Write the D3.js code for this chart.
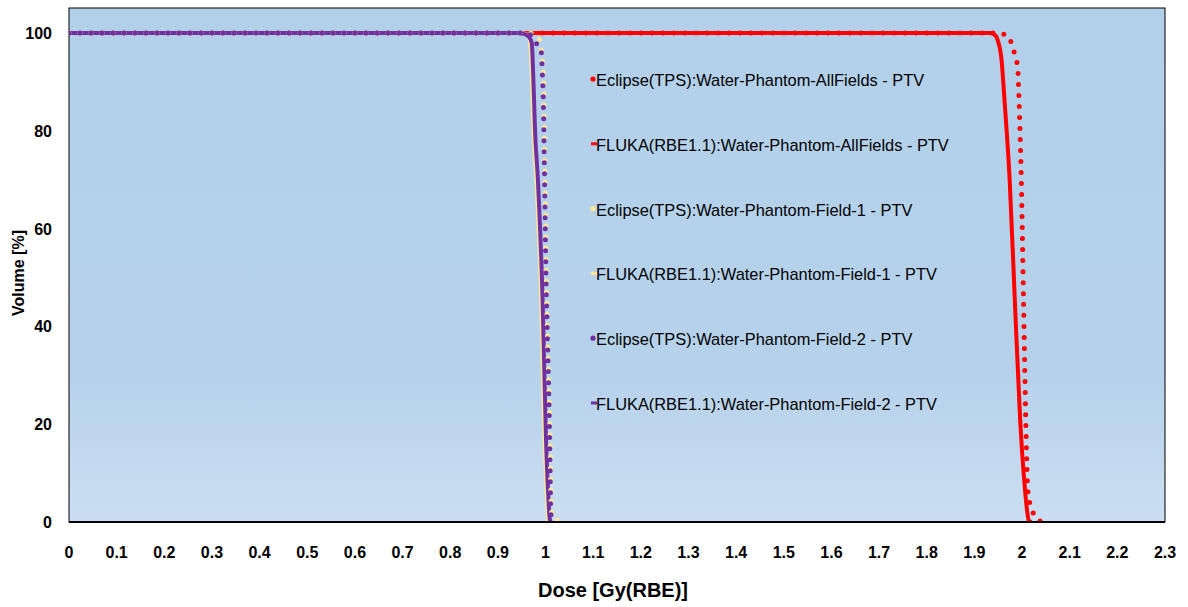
<!DOCTYPE html>
<html>
<head>
<meta charset="utf-8">
<script src="https://cdn.jsdelivr.net/npm/d3@7"></script>
<style>
  body { margin: 0; background: #ffffff; }
  svg { display: block; }
  .tick-label { font-family: "Liberation Sans", Arial, sans-serif; font-weight: bold; font-size: 16px; fill: #000; }
  .axis-title { font-family: "Liberation Sans", Arial, sans-serif; font-weight: bold; fill: #000; }
  .legend-text { font-family: "Liberation Sans", Arial, sans-serif; font-size: 16.4px; fill: #000; }
</style>
</head>
<body>
<div id="chart"></div>
<script>
// frame constants
const FRAME_WIDTH = 1188;
const FRAME_HEIGHT = 607;
const MARGINS = {left: 69, right: 23, top: 8, bottom: 85};
const VIS_WIDTH = FRAME_WIDTH - MARGINS.left - MARGINS.right;
const VIS_HEIGHT = FRAME_HEIGHT - MARGINS.top - MARGINS.bottom;

// tick labels
const X_TICKS = [0, 0.1, 0.2, 0.3, 0.4, 0.5, 0.6, 0.7, 0.8, 0.9, 1, 1.1, 1.2, 1.3, 1.4, 1.5, 1.6, 1.7, 1.8, 1.9, 2, 2.1, 2.2, 2.3];
const Y_TICKS = [0, 20, 40, 60, 80, 100];

// series names
const SERIES_NAMES = [
  "Eclipse(TPS):Water-Phantom-AllFields - PTV",
  "FLUKA(RBE1.1):Water-Phantom-AllFields - PTV",
  "Eclipse(TPS):Water-Phantom-Field-1 - PTV",
  "FLUKA(RBE1.1):Water-Phantom-Field-1 - PTV",
  "Eclipse(TPS):Water-Phantom-Field-2 - PTV",
  "FLUKA(RBE1.1):Water-Phantom-Field-2 - PTV"
];

// DVH values: dose [Gy(RBE)] and volume [%]
const DOSE_ECL_ALL = [0, 1.95, 1.956, 1.965, 1.973, 1.98, 1.987, 1.991, 1.993, 1.996, 1.998, 2.003, 2.008, 2.012, 2.015, 2.021, 2.031, 2.046];
const VOL_ECL_ALL  = [100, 100, 99.9, 99.6, 99.2, 96.9, 94.9, 92.6, 88, 79, 72, 46, 20, 6.7, 4.5, 2.5, 0.6, 0];

const DOSE_FLU_ALL = [0, 1.932, 1.943, 1.949, 1.957, 1.963, 1.974, 1.985, 1.996, 2.005, 2.011, 2.014, 2.02];
const VOL_FLU_ALL  = [100, 100, 99.6, 98.5, 94.5, 86.5, 70, 45, 21, 8, 2, 0.3, 0];

const DOSE_ECL_F1 = [0, 0.97, 0.978, 0.984, 0.99, 0.993, 0.995, 0.9965, 0.998, 1.0, 1.002, 1.005, 1.0095, 1.011, 1.012, 1.015, 1.025, 1.034];
const VOL_ECL_F1  = [100, 100, 99.6, 99.2, 97.5, 94.6, 92, 88, 76, 63, 48, 35, 18, 8, 3, 1, 0.3, 0];

const DOSE_FLU_F1 = [0, 0.95, 0.96, 0.967, 0.971, 0.975, 0.981, 0.991, 0.998, 1.003, 1.006, 1.009];
const VOL_FLU_F1  = [100, 100, 99.7, 98.5, 92, 80, 70, 45, 17, 5, 0.5, 0];

const DOSE_ECL_F2 = [0, 0.96, 0.97, 0.977, 0.99, 0.992, 0.993, 0.9955, 0.997, 0.999, 1.001, 1.004, 1.0085, 1.01, 1.011, 1.014, 1.018];
const VOL_ECL_F2  = [100, 100, 99.5, 98.2, 97, 94.8, 92.4, 85.7, 76.7, 63, 50, 38, 18, 8, 2, 0.5, 0];

const DOSE_FLU_F2 = [0, 0.945, 0.955, 0.965, 0.971, 0.974, 0.978, 0.984, 0.994, 1.001, 1.006, 1.009, 1.012];
const VOL_FLU_F2  = [100, 100, 99.8, 99.2, 98, 92, 80, 70, 45, 17, 5, 0.5, 0];

// pair the arrays into point lists
function zipDvh(doses, vols) {
  return doses.map((d, i) => ({dose: d, vol: vols[i]}));
}

const SERIES = [
  {name: SERIES_NAMES[0], color: "#ff0000", dotted: true,  points: zipDvh(DOSE_ECL_ALL, VOL_ECL_ALL)},
  {name: SERIES_NAMES[1], color: "#ff0000", dotted: false, points: zipDvh(DOSE_FLU_ALL, VOL_FLU_ALL)},
  {name: SERIES_NAMES[2], color: "#ffe699", dotted: true,  points: zipDvh(DOSE_ECL_F1, VOL_ECL_F1)},
  {name: SERIES_NAMES[3], color: "#ffe699", dotted: false, points: zipDvh(DOSE_FLU_F1, VOL_FLU_F1)},
  {name: SERIES_NAMES[4], color: "#7030a0", dotted: true,  points: zipDvh(DOSE_ECL_F2, VOL_ECL_F2)},
  {name: SERIES_NAMES[5], color: "#7030a0", dotted: false, points: zipDvh(DOSE_FLU_F2, VOL_FLU_F2)}
];

// order in which lines are painted (solid under dotted for each field)
const DRAW_ORDER = [0, 1, 3, 5, 2, 4];

const FRAME = d3.select("#chart")
                .append("svg")
                  .attr("width", FRAME_WIDTH)
                  .attr("height", FRAME_HEIGHT);

// scales
const X_SCALE = d3.scaleLinear()
                  .domain([0, 2.3])
                  .range([0, VIS_WIDTH]);

const Y_SCALE = d3.scaleLinear()
                  .domain([0, 105.1])
                  .range([VIS_HEIGHT, 0]);

// plot area background gradient
const defs = FRAME.append("defs");
const grad = defs.append("linearGradient")
                 .attr("id", "bg")
                 .attr("x1", 0).attr("y1", 0)
                 .attr("x2", 0).attr("y2", 1);
grad.append("stop").attr("offset", "0%").attr("stop-color", "#b3d0ea");
grad.append("stop").attr("offset", "72%").attr("stop-color", "#b6d2eb");
grad.append("stop").attr("offset", "100%").attr("stop-color", "#cbdef1");

defs.append("clipPath")
    .attr("id", "clip")
    .append("rect")
      .attr("x", 0).attr("y", 0)
      .attr("width", VIS_WIDTH).attr("height", VIS_HEIGHT);

const PLOT = FRAME.append("g")
                  .attr("transform", "translate(" + MARGINS.left + "," + MARGINS.top + ")");

PLOT.append("rect")
    .attr("x", 0).attr("y", 0)
    .attr("width", VIS_WIDTH).attr("height", VIS_HEIGHT)
    .attr("fill", "url(#bg)")
    .attr("stroke", "#000")
    .attr("stroke-width", 1);

// lines
const line = d3.line()
               .x(d => X_SCALE(d.dose))
               .y(d => Y_SCALE(d.vol))
               .curve(d3.curveMonotoneX);

const lines = PLOT.append("g").attr("clip-path", "url(#clip)");

DRAW_ORDER.forEach(i => {
  const s = SERIES[i];
  const path = lines.append("path")
       .datum(s.points)
       .attr("fill", "none")
       .attr("stroke", s.color)
       .attr("d", line);
  if (s.dotted) {
    path.attr("stroke-width", 5)
        .attr("stroke-linecap", "round")
        .attr("stroke-dasharray", "0 11");
  } else {
    path.attr("stroke-width", 4)
        .attr("stroke-linejoin", "round");
  }
});

// bottom axis line
PLOT.append("line")
    .attr("x1", 0).attr("x2", VIS_WIDTH)
    .attr("y1", VIS_HEIGHT).attr("y2", VIS_HEIGHT)
    .attr("stroke", "#000")
    .attr("stroke-width", 2);

// x tick labels
PLOT.selectAll(".xlab")
    .data(X_TICKS)
    .enter().append("text")
      .attr("class", "tick-label")
      .attr("x", d => X_SCALE(d))
      .attr("y", VIS_HEIGHT + 36)
      .attr("text-anchor", "middle")
      .text(d => d3.format("")(d));

// y tick labels
PLOT.selectAll(".ylab")
    .data(Y_TICKS)
    .enter().append("text")
      .attr("class", "tick-label")
      .attr("x", -17)
      .attr("y", d => Y_SCALE(d) + 6)
      .attr("text-anchor", "end")
      .text(d => d);

// axis titles
FRAME.append("text")
     .attr("class", "axis-title")
     .attr("x", MARGINS.left + VIS_WIDTH / 2 - 4)
     .attr("y", 597)
     .attr("text-anchor", "middle")
     .style("font-size", "20px")
     .text("Dose [Gy(RBE)]");

FRAME.append("text")
     .attr("class", "axis-title")
     .attr("transform", "translate(24," + (MARGINS.top + VIS_HEIGHT / 2 + 8) + ") rotate(-90)")
     .attr("text-anchor", "middle")
     .style("font-size", "16px")
     .text("Volume [%]");

// legend
const LEGEND = FRAME.append("g")
                    .attr("transform", "translate(596,86)");

SERIES.forEach((s, i) => {
  const g = LEGEND.append("g").attr("transform", "translate(0," + (i * 64.8) + ")");
  if (s.dotted) {
    g.append("circle")
     .attr("cx", -3).attr("cy", -7)
     .attr("r", 2.6)
     .attr("fill", s.color);
  } else {
    g.append("line")
     .attr("x1", -5).attr("x2", 1)
     .attr("y1", -7).attr("y2", -7)
     .attr("stroke", s.color)
     .attr("stroke-width", 3);
  }
  g.append("text")
   .attr("class", "legend-text")
   .attr("x", 0)
   .attr("y", 0)
   .text(s.name);
});
</script>
</body>
</html>
